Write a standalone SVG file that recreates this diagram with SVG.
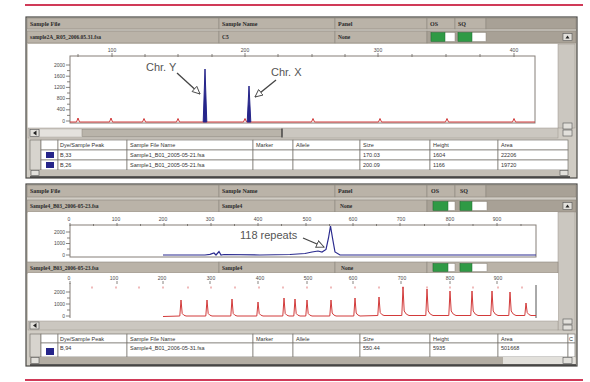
<svg xmlns="http://www.w3.org/2000/svg" width="590" height="382" viewBox="0 0 590 382">
<defs>
<style>
.pan{fill:#d0ccc4;stroke:#4a4845;stroke-width:1.2}
.hdr{fill:#bab3a8;stroke:#8c877e;stroke-width:0.6}
.hdr2{fill:#a8a196;stroke:#8c877e;stroke-width:0.6}
.ht{font-family:"Liberation Serif",serif;font-weight:bold;font-size:6px;fill:#2a2a2a}
.ft{font-family:"Liberation Serif",serif;font-weight:bold;font-size:5.5px;fill:#2a2a2a}
.ax{font-family:"Liberation Sans",sans-serif;font-size:5px;fill:#4a4a4a}
.tb{fill:#fff;stroke:#7a766f;stroke-width:0.7}
.tg{fill:#d7d4ce;stroke:#7a766f;stroke-width:0.7}
.tt{font-family:"Liberation Sans",sans-serif;font-size:5.5px;fill:#333}
.box{fill:none;stroke:#857f78;stroke-width:1}
.tick{stroke:#6a6660;stroke-width:0.8}
.grn{fill:#2f9a45;stroke:#1f6a2e;stroke-width:0.5}
.wht{fill:#fff;stroke:#8c877e;stroke-width:0.5}
.btn{fill:#e2e0db;stroke:#555;stroke-width:0.6}
.sb{fill:#cbc7c0;stroke:#9a958d;stroke-width:0.5}
.lbl{font-family:"Liberation Sans",sans-serif;font-size:11px;fill:#555}
.arr{stroke:#444;stroke-width:1.3;fill:none;marker-end:url(#oa)}
.red{fill:none;stroke:#d23a3a;stroke-width:1}
.blu{fill:none;stroke:#2b2b8f;stroke-width:1.2}
.rl{stroke:#d03a58;stroke-width:2}
.rm{stroke:#d23a3a;stroke-width:0.7}
.dye{fill:#26258a}
</style>
<marker id="oa" markerUnits="userSpaceOnUse" markerWidth="10" markerHeight="8" refX="8" refY="4" orient="auto">
<path d="M0.5,0.5 L8,4 L0.5,7.5 z" fill="#fff" stroke="#444" stroke-width="0.9"/>
</marker>
</defs>
<rect width="590" height="382" fill="#fff"/>
<line class="rl" x1="25" y1="5" x2="583" y2="5"/>
<line class="rl" x1="25" y1="380" x2="583" y2="380" stroke="#e07a8a"/>

<g id="panel1">
<rect class="pan" x="26" y="17" width="551" height="161"/>
<rect class="hdr" x="27" y="18" width="192" height="11"/>
<rect class="hdr" x="219" y="18" width="116" height="11"/>
<rect class="hdr" x="335" y="18" width="92" height="11"/>
<rect class="hdr" x="427" y="18" width="28" height="11"/>
<rect class="hdr" x="455" y="18" width="31" height="11"/>
<rect class="hdr2" x="486" y="18" width="90" height="11"/>
<text class="ht" x="30" y="26">Sample File</text>
<text class="ht" x="222" y="26">Sample Name</text>
<text class="ht" x="338" y="26">Panel</text>
<text class="ht" x="430" y="26">OS</text>
<text class="ht" x="458" y="26">SQ</text>
<rect class="hdr" x="27" y="31" width="192" height="12"/>
<rect class="hdr" x="219" y="31" width="116" height="12"/>
<rect class="hdr" x="335" y="31" width="92" height="12"/>
<rect class="hdr2" x="427" y="31" width="149" height="12"/>
<text class="ft" x="30" y="39">sample2A_R05_2006.05.31.fsa</text>
<text class="ft" x="222" y="39">C5</text>
<text class="ft" x="338" y="39">None</text>
<rect class="wht" x="431" y="32.5" width="24" height="9"/>
<rect class="grn" x="431" y="32.5" width="14" height="9"/>
<rect class="wht" x="458" y="32.5" width="28" height="9"/>
<rect class="grn" x="458" y="32.5" width="14" height="9"/>
<rect class="btn" x="563" y="33.5" width="9" height="7"/>
<path d="M565.5,38.5 L567.5,35.5 L569.5,38.5 z" fill="#222"/>

<rect x="28" y="44" width="530" height="84" fill="#fff"/>
<rect class="sb" x="558" y="44" width="17" height="84"/>
<rect class="btn" x="563" y="123" width="9" height="6"/>
<rect class="btn" x="563" y="130" width="9" height="6"/>
<rect class="box" x="70" y="56" width="465" height="67"/>
<g class="tick">
<path d="M78,54 v3 M112,53 v4 M145,54 v3 M178,54 v3 M212,54 v3 M245,53 v4 M278,54 v3 M312,54 v3 M345,54 v3 M378,53 v4 M412,54 v3 M446,54 v3 M480,54 v3 M514,53 v4"/>
<path d="M66,65 h4 M67,70.6 h3 M66,76.2 h4 M67,81.8 h3 M66,87.4 h4 M67,93 h3 M66,98.6 h4 M67,104.2 h3 M66,109.8 h4 M67,115.4 h3 M66,121 h4"/>
</g>
<text class="ax" x="112" y="52" text-anchor="middle">100</text>
<text class="ax" x="245" y="52" text-anchor="middle">200</text>
<text class="ax" x="378" y="52" text-anchor="middle">300</text>
<text class="ax" x="514" y="52" text-anchor="middle">400</text>
<g class="ax" text-anchor="end">
<text x="65" y="67">2000</text>
<text x="65" y="78">1600</text>
<text x="65" y="89">1200</text>
<text x="65" y="100">800</text>
<text x="65" y="111">400</text>
<text x="65" y="123">0</text>
</g>
<path class="red" d="M70,122 L76.5,122 L78,118 L79.5,122 L109.5,122 L111,118 L112.5,122 L142.5,122 L144,118.5 L145.5,122 L176.5,122 L178,118.5 L179.5,122 L243.5,122 L245,118.5 L246.5,122 L311.5,122 L313,118.5 L314.5,122 L378.5,122 L380,118.5 L381.5,122 L445.5,122 L447,118.5 L448.5,122 L512.5,122 L514,118.5 L515.5,122 L535,122"/>
<path d="M203.2,122 L205,69 L206.8,122 z" class="dye" stroke="#26258a" stroke-width="1"/>
<path d="M247.2,122 L249,86 L250.8,122 z" class="dye" stroke="#26258a" stroke-width="1"/>
<text class="lbl" x="146" y="71">Chr. Y</text>
<text class="lbl" x="271" y="76">Chr. X</text>
<line class="arr" x1="177" y1="73" x2="200" y2="94"/>
<line class="arr" x1="276" y1="80" x2="255" y2="97"/>

<rect class="sb" x="28" y="128" width="530" height="10"/>
<rect class="btn" x="30" y="129.5" width="9" height="7"/>
<path d="M36.5,130.5 L33,133 L36.5,135.5 z" fill="#222"/>
<rect x="40" y="129.5" width="42" height="7" fill="#e4e2dd"/>
<rect x="82" y="129.5" width="200" height="7" fill="#b9b4aa" stroke="#8a857c" stroke-width="0.5"/>
<line x1="282" y1="128.5" x2="282" y2="137.5" stroke="#333" stroke-width="1.2"/>

<rect class="tg" x="30" y="140" width="11" height="30"/>
<rect class="tb" x="41" y="140" width="17" height="10"/>
<rect class="tb" x="58" y="140" width="69" height="10"/>
<rect class="tb" x="127" y="140" width="126" height="10"/>
<rect class="tb" x="253" y="140" width="40" height="10"/>
<rect class="tb" x="293" y="140" width="67" height="10"/>
<rect class="tb" x="360" y="140" width="70" height="10"/>
<rect class="tb" x="430" y="140" width="68" height="10"/>
<rect class="tb" x="498" y="140" width="70" height="10"/>
<rect class="tb" x="41" y="150" width="17" height="10"/>
<rect class="tb" x="58" y="150" width="69" height="10"/>
<rect class="tb" x="127" y="150" width="126" height="10"/>
<rect class="tb" x="253" y="150" width="40" height="10"/>
<rect class="tb" x="293" y="150" width="67" height="10"/>
<rect class="tb" x="360" y="150" width="70" height="10"/>
<rect class="tb" x="430" y="150" width="68" height="10"/>
<rect class="tb" x="498" y="150" width="70" height="10"/>
<rect class="tb" x="41" y="160" width="17" height="10"/>
<rect class="tb" x="58" y="160" width="69" height="10"/>
<rect class="tb" x="127" y="160" width="126" height="10"/>
<rect class="tb" x="253" y="160" width="40" height="10"/>
<rect class="tb" x="293" y="160" width="67" height="10"/>
<rect class="tb" x="360" y="160" width="70" height="10"/>
<rect class="tb" x="430" y="160" width="68" height="10"/>
<rect class="tb" x="498" y="160" width="70" height="10"/>
<rect class="dye" x="46" y="152" width="8" height="6"/>
<rect class="dye" x="46" y="162" width="8" height="6"/>
<g class="tt">
<text x="60" y="147">Dye/Sample Peak</text>
<text x="130" y="147">Sample File Name</text>
<text x="256" y="147">Marker</text>
<text x="296" y="147">Allele</text>
<text x="363" y="147">Size</text>
<text x="433" y="147">Height</text>
<text x="501" y="147">Area</text>
<text x="60" y="157">B,33</text>
<text x="130" y="157">Sample1_B01_2005-05-21.fsa</text>
<text x="363" y="157">170.03</text>
<text x="433" y="157">1604</text>
<text x="501" y="157">22206</text>
<text x="60" y="167">B,26</text>
<text x="130" y="167">Sample1_B01_2005-05-21.fsa</text>
<text x="363" y="167">200.09</text>
<text x="433" y="167">1166</text>
<text x="501" y="167">19720</text>
</g>
<rect x="30" y="170" width="538" height="6" fill="#c3beb5"/>
<rect class="btn" x="31" y="170.5" width="8" height="5"/>
<rect class="btn" x="560" y="170.5" width="8" height="5"/>
<line x1="30" y1="177" x2="570" y2="177" stroke="#333" stroke-width="1.5"/>
</g>

<g id="panel2">
<rect class="pan" x="26" y="184" width="551" height="182"/>
<rect class="hdr" x="27" y="185" width="192" height="12"/>
<rect class="hdr" x="219" y="185" width="116" height="12"/>
<rect class="hdr" x="335" y="185" width="92" height="12"/>
<rect class="hdr" x="427" y="185" width="28" height="12"/>
<rect class="hdr" x="455" y="185" width="31" height="12"/>
<rect class="hdr2" x="486" y="185" width="90" height="12"/>
<text class="ht" x="30" y="193">Sample File</text>
<text class="ht" x="222" y="193">Sample Name</text>
<text class="ht" x="338" y="193">Panel</text>
<text class="ht" x="431" y="193">OS</text>
<text class="ht" x="460" y="193">SQ</text>
<rect class="hdr" x="27" y="200" width="192" height="12"/>
<rect class="hdr" x="219" y="200" width="116" height="12"/>
<rect class="hdr" x="335" y="200" width="92" height="12"/>
<rect class="hdr2" x="427" y="200" width="149" height="12"/>
<text class="ft" x="30" y="208">Sample4_B03_2006-05-23.fsa</text>
<text class="ft" x="222" y="208">Sample4</text>
<text class="ft" x="340" y="208">None</text>
<rect class="wht" x="433" y="201.5" width="22" height="9"/>
<rect class="grn" x="433" y="201.5" width="15" height="9"/>
<rect class="wht" x="460" y="201.5" width="27" height="9"/>
<rect class="grn" x="460" y="201.5" width="12" height="9"/>
<rect class="btn" x="563" y="202.5" width="9" height="7"/>
<path d="M565.5,207.5 L567.5,204.5 L569.5,207.5 z" fill="#222"/>

<rect x="28" y="212" width="530" height="50" fill="#fff"/>
<rect class="sb" x="558" y="212" width="17" height="118"/>
<rect class="box" x="70" y="225" width="466" height="32"/>
<g class="tick">
<path d="M70,223 v3 M93.5,224 v2 M117,223 v3 M140.5,224 v2 M164,223 v3 M187.5,224 v2 M211,223 v3 M234.5,224 v2 M258,223 v3 M281.5,224 v2 M306,223 v3 M329.5,224 v2 M353,223 v3 M376.5,224 v2 M400,223 v3 M424.5,224 v2 M449,223 v3 M473,224 v2 M497,223 v3 M521,224 v2"/>
<path d="M66,232 h4 M67,238 h3 M66,243.5 h4 M67,249 h3 M66,255 h4"/>
</g>
<g class="ax" text-anchor="middle">
<text x="69" y="221">0</text>
<text x="116" y="221">100</text>
<text x="163" y="221">200</text>
<text x="210" y="221">300</text>
<text x="258" y="221">400</text>
<text x="307" y="221">500</text>
<text x="353" y="221">600</text>
<text x="401" y="221">700</text>
<text x="450" y="221">800</text>
<text x="497" y="221">900</text>
</g>
<g class="ax" text-anchor="end">
<text x="65" y="234">2000</text>
<text x="65" y="245">1000</text>
<text x="65" y="257">0</text>
</g>
<path class="blu" d="M163,255 L205,255 L210,254.3 L214,253 L216,255 L219,251.5 L221,255 L224,254.5 L260,255 L290,254.5 L305,253.5 L312,252 L318,251 L322,252 L326,249.5 L328.5,238 L330.5,226 L332.5,238 L335,252 L340,255 L536,255"/>
<text class="lbl" x="240" y="239" font-size="11.5">118 repeats</text>
<line class="arr" x1="303" y1="238" x2="324" y2="247"/>

<rect class="hdr" x="27" y="262" width="192" height="11"/>
<rect class="hdr" x="219" y="262" width="116" height="11"/>
<rect class="hdr" x="335" y="262" width="92" height="11"/>
<rect class="hdr" x="427" y="262" width="131" height="11"/>
<text class="ft" x="30" y="270">Sample4_B03_2006-05-23.fsa</text>
<text class="ft" x="222" y="270">Sample4</text>
<text class="ft" x="341" y="270">None</text>
<rect class="wht" x="433" y="263.5" width="22" height="8"/>
<rect class="grn" x="433" y="263.5" width="15" height="8"/>
<rect class="wht" x="460" y="263.5" width="27" height="8"/>
<rect class="grn" x="460" y="263.5" width="12" height="8"/>

<rect x="28" y="273" width="530" height="48" fill="#fff"/>
<line x1="70" y1="283" x2="70" y2="318" class="box"/>
<line x1="536" y1="285" x2="536" y2="318" stroke="#555" stroke-width="1"/>
<g class="tick">
<path d="M70,281 v3 M117,281 v3 M163,281 v3 M210,281 v3 M258,281 v3 M307,281 v3 M353,281 v3 M401,281 v3 M450,281 v3 M497,281 v3"/>
<path d="M66,292 h4 M67,298 h3 M66,304 h4 M67,310 h3 M66,316 h4"/>
</g>
<g class="rm">
<path d="M92,286.5 v2 M116,286.5 v2 M139,286.5 v2 M163,286.5 v2 M188,286.5 v2 M211,286.5 v2 M235,286.5 v2 M259,286.5 v2 M283,286.5 v2 M307,286.5 v2 M331,286.5 v2 M355,286.5 v2 M379,286.5 v2 M403,286.5 v2 M427,286.5 v2 M450,286.5 v2 M473,286.5 v2 M498,286.5 v2 M522,286.5 v2"/>
</g>
<g class="ax" text-anchor="middle">
<text x="69" y="280">0</text>
<text x="114" y="280">100</text>
<text x="162" y="280">200</text>
<text x="211" y="280">300</text>
<text x="260" y="280">400</text>
<text x="308" y="280">500</text>
<text x="353" y="280">600</text>
<text x="402" y="280">700</text>
<text x="450" y="280">800</text>
<text x="498" y="280">900</text>
</g>
<g class="ax" text-anchor="end">
<text x="65" y="294">2000</text>
<text x="65" y="306">1000</text>
<text x="65" y="318">0</text>
</g>
<path class="red" d="M163,316.5 L179.8,316 L181,300 L182.2,313.5 Q183.5,315.5 186,316 L205.8,316 L207,300 L208.2,313.5 Q209.5,315.5 212,316 L230.8,316 L232,299 L233.2,313.5 Q234.5,315.5 237,316 L256.8,316 L258,302 L259.2,313.5 Q260.5,315.5 263,316 L282.8,316 L284,298 L285.2,313.5 Q286.5,315.5 289,316 L293.8,316 L295,299 L296.2,313.5 Q297.5,315.5 300,316 L305.8,316 L307,300 L308.2,313.5 Q309.5,315.5 312,316 L329.8,316 L331,300 L332.2,313 Q333.5,315.5 336,316 L353.8,316 L355,298 L356.2,313 Q357.5,315.5 360,316 L377.8,315.5 L379,297 L380.2,312.5 Q381.5,315 384,315.5 L401.8,315.5 L403,287 L404.2,311 Q406,315 409,315.5 L425.8,315.5 L427,289 L428.2,311 Q430,315 433,315.5 L448.8,315.5 L450,291 L451.2,311 Q453,315 456,315.5 L470.8,315.5 L472,291 L473.2,311 Q475,315 478,315.5 L490.8,315.5 L492,291 L493.2,311 Q495,315 498,315.5 L508.8,315.5 L510,292 L511.2,311 Q513,315 516,315.5 L524.8,315.5 L526,303 L527.2,312.5 Q528.5,315 531,315.5 L536,315.5"/>

<rect class="sb" x="28" y="321" width="530" height="9"/>
<rect class="btn" x="30" y="322" width="9" height="7"/>
<path d="M36.5,323 L33,325.5 L36.5,328 z" fill="#222"/>
<rect class="btn" x="563" y="319" width="9" height="5"/>
<rect class="btn" x="563" y="325" width="9" height="5"/>

<rect class="tg" x="30" y="334" width="11" height="23"/>
<rect class="tb" x="41" y="334" width="17" height="9"/>
<rect class="tb" x="58" y="334" width="69" height="9"/>
<rect class="tb" x="127" y="334" width="126" height="9"/>
<rect class="tb" x="253" y="334" width="40" height="9"/>
<rect class="tb" x="293" y="334" width="67" height="9"/>
<rect class="tb" x="360" y="334" width="70" height="9"/>
<rect class="tb" x="430" y="334" width="68" height="9"/>
<rect class="tb" x="498" y="334" width="70" height="9"/>
<rect class="tb" x="568" y="334" width="7" height="9"/>
<rect class="tb" x="41" y="343" width="17" height="14"/>
<rect class="tb" x="58" y="343" width="69" height="14"/>
<rect class="tb" x="127" y="343" width="126" height="14"/>
<rect class="tb" x="253" y="343" width="40" height="14"/>
<rect class="tb" x="293" y="343" width="67" height="14"/>
<rect class="tb" x="360" y="343" width="70" height="14"/>
<rect class="tb" x="430" y="343" width="68" height="14"/>
<rect class="tb" x="498" y="343" width="70" height="14"/>
<rect class="tb" x="568" y="343" width="7" height="14"/>
<rect class="dye" x="46" y="348" width="8" height="7"/>
<g class="tt">
<text x="60" y="341">Dye/Sample Peak</text>
<text x="130" y="341">Sample File Name</text>
<text x="256" y="341">Marker</text>
<text x="296" y="341">Allele</text>
<text x="363" y="341">Size</text>
<text x="433" y="341">Height</text>
<text x="501" y="341">Area</text>
<text x="569" y="341">C</text>
<text x="60" y="350">B,94</text>
<text x="130" y="350">Sample4_B01_2006-05-31.fsa</text>
<text x="363" y="350">550.44</text>
<text x="433" y="350">5935</text>
<text x="501" y="350">501668</text>
</g>
<rect x="30" y="357" width="473" height="7" fill="#b3ada3"/>
<rect x="503" y="357" width="72" height="7" fill="#e2e0db"/>
<rect class="btn" x="31" y="357.5" width="8" height="6"/>
<rect class="btn" x="563" y="357.5" width="9" height="6"/>
<line x1="30" y1="365" x2="576" y2="365" stroke="#333" stroke-width="1.5"/>
</g>
</svg>
